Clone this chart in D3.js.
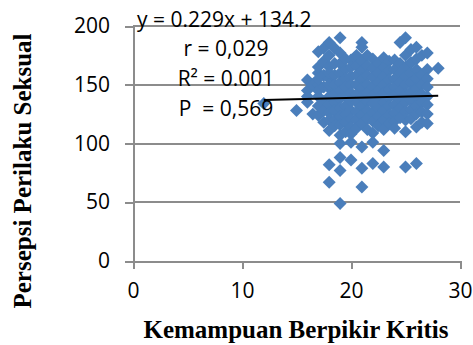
<!DOCTYPE html>
<meta charset="utf-8">
<head>
    <title>Kemampuan Berpikir Kritis vs Persepsi Perilaku Seksual</title>
</head>
<style>
    body {
        margin: 0;
        background-color: #ffffff;
    }

    .grid line {
        stroke: #8c8c8c;
        stroke-width: 2px;
        shape-rendering: crispEdges;
    }

    .axis path,
    .axis line {
        fill: none;
        stroke: #8c8c8c;
        stroke-width: 2px;
        shape-rendering: crispEdges;
    }

    .axis text {
        font-family: "Open Sans", Arial;
        font-size: 21px;
        fill: #000000;
    }

    text.title {
        font-family: "Liberation Serif", "Times New Roman", serif;
        font-weight: 700;
        font-size: 25px;
        fill: #000000;
    }

    text.note {
        font-family: "Open Sans", Arial;
        font-size: 21px;
        fill: #000000;
        white-space: pre;
    }
</style>
<body>
    <svg width="473" height="345"></svg>
</body>

<script src="https://d3js.org/d3.v7.min.js"></script>

<script>
    // data, grouped by x value
    var xValues = [
        12,
        15,
        16, 16, 16, 16,
        16.5, 16.5,
        17, 17, 17, 17, 17, 17, 17, 17, 17,
        17.5, 17.5, 17.5, 17.5, 17.5, 17.5, 17.5,
        18, 18, 18, 18, 18, 18, 18, 18, 18, 18, 18, 18, 18, 18,
        18.5, 18.5, 18.5, 18.5, 18.5, 18.5, 18.5, 18.5, 18.5,
        19, 19, 19, 19, 19, 19, 19, 19, 19, 19, 19, 19, 19, 19, 19,
        19.5, 19.5, 19.5, 19.5, 19.5, 19.5, 19.5, 19.5, 19.5,
        20, 20, 20, 20, 20, 20, 20, 20, 20, 20, 20, 20,
        20.5, 20.5, 20.5, 20.5, 20.5, 20.5, 20.5, 20.5, 20.5,
        21, 21, 21, 21, 21, 21, 21, 21, 21, 21, 21, 21, 21,
        21.5, 21.5, 21.5, 21.5, 21.5, 21.5, 21.5, 21.5, 21.5,
        22, 22, 22, 22, 22, 22, 22, 22, 22, 22, 22,
        22.5, 22.5, 22.5, 22.5, 22.5, 22.5, 22.5, 22.5,
        23, 23, 23, 23, 23, 23, 23, 23, 23, 23, 23,
        23.5, 23.5, 23.5, 23.5, 23.5, 23.5, 23.5, 23.5,
        24, 24, 24, 24, 24, 24, 24, 24, 24,
        24.5, 24.5, 24.5, 24.5, 24.5, 24.5, 24.5, 24.5,
        25, 25, 25, 25, 25, 25, 25, 25, 25, 25, 25,
        25.5, 25.5, 25.5, 25.5, 25.5, 25.5, 25.5, 25.5,
        26, 26, 26, 26, 26, 26, 26, 26, 26, 26,
        26.5, 26.5, 26.5, 26.5, 26.5, 26.5, 26.5,
        27, 27, 27, 27, 27, 27, 27, 27,
        28
    ];

    var yValues = [
        134,
        128,
        145, 140, 154, 135,
        150, 125,
        178, 124, 160, 150, 140, 132, 145, 155, 165,
        181, 170, 158, 148, 136, 128, 118,
        186, 175, 165, 155, 147, 140, 133, 126, 120, 111, 82, 67, 160, 150,
        181, 168, 158, 150, 142, 135, 128, 120, 115,
        190, 177, 168, 160, 152, 145, 138, 130, 123, 116, 100, 88, 77, 49, 107,
        172, 163, 155, 148, 140, 132, 125, 118, 110,
        171, 165, 157, 150, 143, 136, 128, 121, 114, 101, 86, 108,
        175, 166, 158, 150, 142, 135, 127, 120, 113,
        186, 182, 170, 162, 155, 147, 140, 132, 124, 117, 97, 79, 63,
        175, 166, 158, 150, 143, 136, 128, 121, 112,
        172, 164, 156, 148, 141, 134, 126, 119, 109, 101, 83,
        168, 160, 152, 145, 138, 130, 123, 115,
        173, 165, 157, 150, 143, 135, 128, 120, 112, 94, 80,
        170, 162, 154, 146, 139, 132, 124, 117,
        171, 163, 155, 148, 141, 133, 126, 119, 113,
        186, 168, 160, 152, 145, 137, 130, 122,
        190, 175, 165, 157, 150, 142, 135, 127, 120, 110, 80,
        180, 169, 160, 152, 144, 137, 129, 121,
        182, 172, 163, 155, 147, 140, 132, 125, 114, 83,
        175, 158, 150, 142, 135, 127, 118,
        177, 163, 155, 148, 140, 133, 125, 117,
        164
    ];

    var xTicks = [0, 10, 20, 30];
    var yTicks = [0, 50, 100, 150, 200];

    var slope = 0.229,
        intercept = 134.2;

    var notes = ["y = 0.229x + 134.2", "r = 0,029", "R\u00b2 = 0.001", "P  = 0,569"];

    var xTitle = "Kemampuan Berpikir Kritis",
        yTitle = "Persepsi Perilaku Seksual";

    var svg = d3.select("svg");

    var plot = {
        left: 133,
        right: 460,
        top: 26,
        bottom: 261
    };

    var x = d3.scaleLinear().domain([0, 30]).range([plot.left, plot.right]);
    var y = d3.scaleLinear().domain([0, 200]).range([plot.bottom, plot.top]);

    var points = xValues.map((d, i) => ({ x: d, y: yValues[i] }));

    // gridlines
    svg.append("g")
        .attr("class", "grid")
        .selectAll("line")
        .data(yTicks.filter(d => d > 0))
        .enter()
        .append("line")
        .attr("x1", plot.left)
        .attr("x2", plot.right)
        .attr("y1", d => y(d))
        .attr("y2", d => y(d));

    svg.append("g")
        .attr("class", "axis")
        .attr("transform", "translate(0," + plot.bottom + ")")
        .call(d3.axisBottom(x).tickValues(xTicks).tickSize(8).tickSizeOuter(0).tickPadding(14));

    svg.append("g")
        .attr("class", "axis")
        .attr("transform", "translate(" + plot.left + ",0)")
        .call(d3.axisLeft(y).tickValues(yTicks).tickSize(8).tickSizeOuter(0).tickPadding(15));

    svg.selectAll(".axis .domain").attr("stroke", "#8c8c8c");

    // points
    svg.append("g")
        .selectAll("path")
        .data(points)
        .enter()
        .append("path")
        .attr("d", d3.symbol(d3.symbolSquare, 84))
        .attr("transform", d => "translate(" + x(d.x) + "," + y(d.y) + ") rotate(45)")
        .attr("fill", "#4a7ebb");

    // trendline
    var xExtent = d3.extent(xValues);
    svg.append("line")
        .attr("x1", x(xExtent[0]))
        .attr("x2", x(xExtent[1]))
        .attr("y1", y(slope * xExtent[0] + intercept))
        .attr("y2", y(slope * xExtent[1] + intercept))
        .attr("stroke", "#000000")
        .attr("stroke-width", 2);

    // regression text
    svg.append("text")
        .attr("class", "note")
        .attr("x", 137)
        .attr("y", 27)
        .text(notes[0]);

    svg.selectAll("text.note2")
        .data(notes.slice(1))
        .enter()
        .append("text")
        .attr("class", "note")
        .attr("text-anchor", "middle")
        .attr("x", 226)
        .attr("y", (d, i) => 56 + i * 30)
        .text(d => d);

    // axis titles
    svg.append("text")
        .attr("class", "title")
        .attr("text-anchor", "middle")
        .attr("x", 296)
        .attr("y", 338)
        .text(xTitle);

    svg.append("text")
        .attr("class", "title")
        .attr("text-anchor", "middle")
        .attr("transform", "translate(31,171) rotate(-90)")
        .text(yTitle);
</script>
